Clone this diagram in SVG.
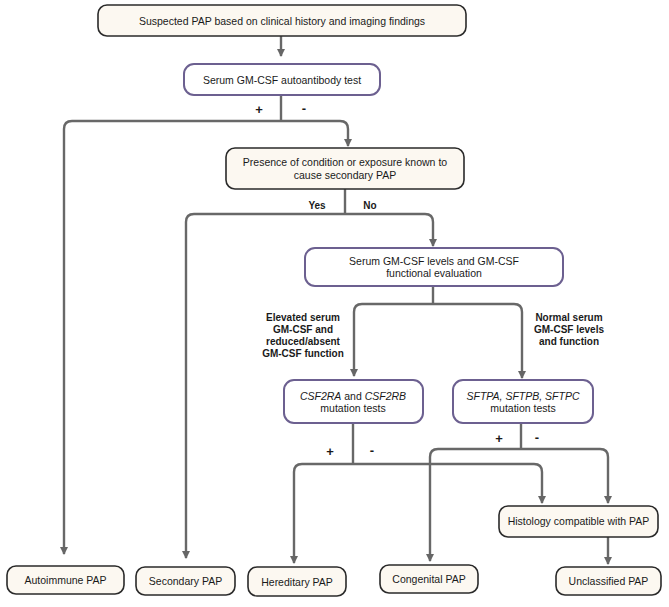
<svg xmlns="http://www.w3.org/2000/svg" width="669" height="607" viewBox="0 0 669 607">
<defs>
<marker id="ah" markerWidth="8" markerHeight="10" refX="7" refY="5" orient="auto" markerUnits="userSpaceOnUse" viewBox="0 0 8 10">
<path d="M0,1 L8,5 L0,9 Z" fill="#666"/>
</marker>
<style>
.cream rect{fill:#fcf8f1;stroke:#2a2a2a;stroke-width:1.6}
.purple rect{fill:#ffffff;stroke:#6c6090;stroke-width:2}
text{font-family:"Liberation Sans",Arial,sans-serif;font-size:10.5px;fill:#1a1a1a;text-anchor:middle}
.lbl{font-weight:bold;font-size:10px}
.sign{font-weight:bold;font-size:13px}
#connectors path{fill:none;stroke:#686868;stroke-width:2.4;marker-end:url(#ah)}
#connectors path.nm{marker-end:none}
</style>
</defs>
<rect width="669" height="607" fill="#ffffff"/>
<g id="connectors">
<path d="M281,36 V56"/>
<path class="nm" d="M281,95 V121"/>
<path d="M281,121 H340 Q348,121 348,129 V146"/>
<path d="M281,121 H72 Q64,121 64,129 V554"/>
<path class="nm" d="M345,189 V214"/>
<path d="M345,214 H425 Q433,214 433,222 V246"/>
<path d="M345,214 H194 Q186,214 186,222 V558"/>
<path class="nm" d="M433,286 V304"/>
<path d="M433,304 H362 Q354,304 354,312 V376"/>
<path d="M433,304 H514 Q522,304 522,312 V378"/>
<path class="nm" d="M353,423 V464"/>
<path d="M353,464 H302 Q294,464 294,472 V563"/>
<path d="M353,464 H534 Q542,464 542,472 V503"/>
<path class="nm" d="M521,423 V449"/>
<path d="M521,449 H438 Q430,449 430,457 V561"/>
<path d="M521,449 H600 Q608,449 608,457 V503"/>
<path d="M608,537 V564"/>
</g>
<g id="n1" class="cream"><rect x="98" y="5" width="368" height="31" rx="9"/><text x="282" y="24.5">Suspected PAP based on clinical history and imaging findings</text></g>
<g id="n2" class="purple"><rect x="184" y="64" width="196" height="31" rx="10"/><text x="282" y="83.5">Serum GM-CSF autoantibody test</text></g>
<g id="n3" class="cream"><rect x="226" y="148" width="238" height="41" rx="9"/><text x="345" y="166">Presence of condition or exposure known to</text><text x="345" y="178.5">cause secondary PAP</text></g>
<g id="n4" class="purple"><rect x="305" y="248" width="258" height="38" rx="10"/><text x="434" y="264.5">Serum GM-CSF levels and GM-CSF</text><text x="434" y="277">functional evaluation</text></g>
<g id="n5" class="purple"><rect x="284" y="380" width="139" height="43" rx="10"/><text x="353" y="399.5"><tspan font-style="italic">CSF2RA</tspan> and <tspan font-style="italic">CSF2RB</tspan></text><text x="353" y="412">mutation tests</text></g>
<g id="n6" class="purple"><rect x="453" y="380" width="140" height="43" rx="10"/><text x="523" y="399.5" font-style="italic">SFTPA, SFTPB, SFTPC</text><text x="523" y="412">mutation tests</text></g>
<g id="n7" class="cream"><rect x="499" y="506" width="159" height="31" rx="9"/><text x="578.5" y="525">Histology compatible with PAP</text></g>
<g id="n8" class="cream"><rect x="7" y="566" width="117" height="28" rx="9"/><text x="65.5" y="584">Autoimmune PAP</text></g>
<g id="n9" class="cream"><rect x="136" y="567" width="99" height="28" rx="9"/><text x="185.5" y="585">Secondary PAP</text></g>
<g id="n10" class="cream"><rect x="248" y="567" width="98" height="29" rx="9"/><text x="297" y="585.5">Hereditary PAP</text></g>
<g id="n11" class="cream"><rect x="380" y="565" width="98" height="28" rx="9"/><text x="429" y="583">Congenital PAP</text></g>
<g id="n12" class="cream"><rect x="556" y="567" width="105" height="28" rx="9"/><text x="608.5" y="585">Unclassified PAP</text></g>
<g id="labels">
<text class="sign" x="259" y="114">+</text>
<text class="sign" x="304" y="113">-</text>
<text class="lbl" x="317" y="209">Yes</text>
<text class="lbl" x="370" y="209">No</text>
<text class="lbl" x="303" y="320.5">Elevated serum</text>
<text class="lbl" x="303" y="332.5">GM-CSF and</text>
<text class="lbl" x="303" y="344.5">reduced/absent</text>
<text class="lbl" x="303" y="356.5">GM-CSF function</text>
<text class="lbl" x="569" y="320.5">Normal serum</text>
<text class="lbl" x="569" y="332.5">GM-CSF levels</text>
<text class="lbl" x="569" y="344.5">and function</text>
<text class="sign" x="330" y="456">+</text>
<text class="sign" x="372" y="455">-</text>
<text class="sign" x="499" y="443">+</text>
<text class="sign" x="537" y="442">-</text>
</g>
</svg>
